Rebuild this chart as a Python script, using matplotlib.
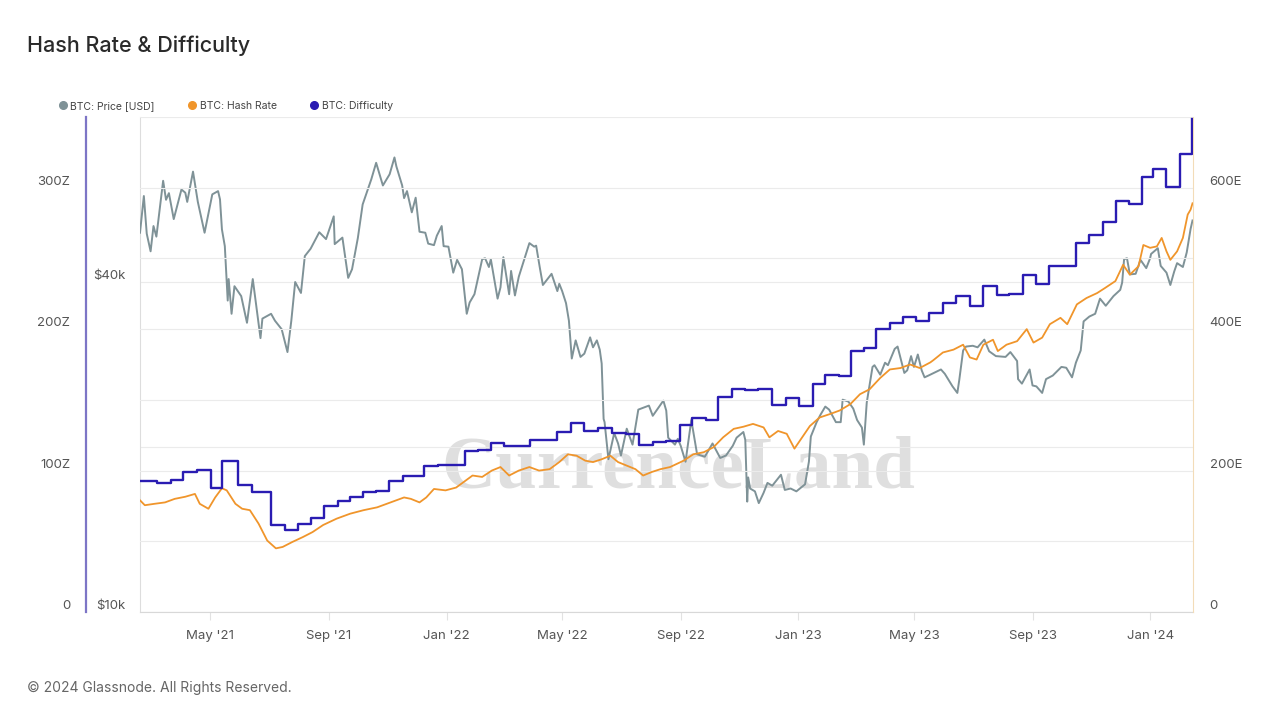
import pandas as pd
import matplotlib.pyplot as plt
import matplotlib.dates as mdates
from matplotlib.lines import Line2D
from matplotlib.ticker import NullLocator

plt.rcParams['font.family'] = ['Inter', 'DejaVu Sans']

# BTC price (USD)
price_dates = [
    '2021-02-17', '2021-02-21', '2021-02-24', '2021-02-28', '2021-03-03', '2021-03-06', '2021-03-13',
    '2021-03-16', '2021-03-19', '2021-03-24', '2021-04-01', '2021-04-05', '2021-04-07', '2021-04-13',
    '2021-04-18', '2021-04-25', '2021-05-03', '2021-05-09', '2021-05-11', '2021-05-13', '2021-05-16',
    '2021-05-19', '2021-05-20', '2021-05-23', '2021-05-26', '2021-06-02', '2021-06-08', '2021-06-14',
    '2021-06-22', '2021-06-24', '2021-07-03', '2021-07-07', '2021-07-14', '2021-07-20', '2021-07-24',
    '2021-07-28', '2021-08-03', '2021-08-07', '2021-08-13', '2021-08-22', '2021-08-29', '2021-09-06',
    '2021-09-07', '2021-09-15', '2021-09-21', '2021-09-25', '2021-10-01', '2021-10-06', '2021-10-15',
    '2021-10-20', '2021-10-27', '2021-11-03', '2021-11-08', '2021-11-10', '2021-11-16', '2021-11-18',
    '2021-11-21', '2021-11-26', '2021-11-30', '2021-12-04', '2021-12-10', '2021-12-13', '2021-12-19',
    '2021-12-22', '2021-12-27', '2021-12-29', '2022-01-03', '2022-01-08', '2022-01-12', '2022-01-17',
    '2022-01-22', '2022-01-25', '2022-01-30', '2022-02-07', '2022-02-10', '2022-02-14', '2022-02-16',
    '2022-02-23', '2022-02-26', '2022-03-01', '2022-03-07', '2022-03-09', '2022-03-13', '2022-03-17',
    '2022-03-28', '2022-04-02', '2022-04-04', '2022-04-08', '2022-04-11', '2022-04-20', '2022-04-26',
    '2022-04-28', '2022-05-01', '2022-05-05', '2022-05-08', '2022-05-11', '2022-05-15', '2022-05-20',
    '2022-05-24', '2022-05-30', '2022-06-02', '2022-06-06', '2022-06-09', '2022-06-11', '2022-06-13',
    '2022-06-14', '2022-06-18', '2022-06-24', '2022-06-28', '2022-07-01', '2022-07-07', '2022-07-13',
    '2022-07-19', '2022-07-30', '2022-08-03', '2022-08-14', '2022-08-17', '2022-08-19', '2022-08-26',
    '2022-08-29', '2022-09-01', '2022-09-06', '2022-09-12', '2022-09-18', '2022-09-26', '2022-10-04',
    '2022-10-12', '2022-10-18', '2022-10-25', '2022-10-29', '2022-11-05', '2022-11-07', '2022-11-09',
    '2022-11-10', '2022-11-12', '2022-11-17', '2022-11-21', '2022-11-26', '2022-11-30', '2022-12-05',
    '2022-12-14', '2022-12-18', '2022-12-24', '2022-12-30', '2023-01-08', '2023-01-12', '2023-01-14',
    '2023-01-20', '2023-01-24', '2023-01-29', '2023-02-02', '2023-02-09', '2023-02-14', '2023-02-16',
    '2023-02-22', '2023-02-27', '2023-03-03', '2023-03-08', '2023-03-10', '2023-03-13', '2023-03-19',
    '2023-03-21', '2023-03-27', '2023-04-01', '2023-04-04', '2023-04-11', '2023-04-14', '2023-04-21',
    '2023-04-24', '2023-04-28', '2023-05-01', '2023-05-05', '2023-05-09', '2023-05-12', '2023-05-16',
    '2023-05-29', '2023-06-02', '2023-06-10', '2023-06-15', '2023-06-17', '2023-06-21', '2023-06-24',
    '2023-07-01', '2023-07-06', '2023-07-13', '2023-07-18', '2023-07-25', '2023-08-04', '2023-08-09',
    '2023-08-16', '2023-08-17', '2023-08-21', '2023-08-29', '2023-09-01', '2023-09-05', '2023-09-11',
    '2023-09-15', '2023-09-22', '2023-10-01', '2023-10-06', '2023-10-12', '2023-10-16', '2023-10-21',
    '2023-10-24', '2023-10-30', '2023-11-05', '2023-11-10', '2023-11-16', '2023-11-24', '2023-12-01',
    '2023-12-03', '2023-12-05', '2023-12-08', '2023-12-11', '2023-12-17', '2023-12-22', '2023-12-28',
    '2024-01-01', '2024-01-02', '2024-01-09', '2024-01-12', '2024-01-18', '2024-01-22', '2024-01-26',
    '2024-01-29', '2024-02-04', '2024-02-08', '2024-02-12', '2024-02-14',
]
price_usd = [
    49200, 57400, 49000, 45500, 50600, 48400, 61200,
    56500, 58100, 52100, 59000, 58200, 56000, 63600,
    56000, 49200, 57800, 58600, 56600, 49900, 46500,
    37000, 40500, 35000, 39300, 37700, 33700, 40500,
    31600, 34300, 35000, 34000, 32800, 29800, 34000,
    40000, 38200, 44600, 46000, 49300, 47900, 52700,
    46900, 48200, 40700, 42200, 48100, 55400, 61600,
    66000, 60000, 62900, 67500, 65000, 60000, 56900,
    58600, 53600, 57000, 49400, 49200, 47000, 46700,
    48600, 50600, 46500, 46400, 41600, 43900, 42200,
    35000, 36700, 38000, 44000, 44200, 42600, 44000,
    37300, 39100, 44400, 38000, 41900, 37800, 40900,
    47100, 46400, 46600, 42300, 39500, 41400, 38500,
    39700, 38500, 36600, 34000, 29000, 31300, 29200,
    29600, 31700, 30400, 31300, 30100, 28400, 22500,
    22200, 19000, 21200, 20300, 19300, 21600, 20200,
    23400, 23800, 22800, 24300, 23300, 20800, 20200,
    20700, 20100, 18800, 22400, 19400, 19200, 20300,
    19100, 19300, 20100, 20800, 21300, 20600, 15900,
    17600, 16800, 16600, 15800, 16500, 17200, 17000,
    17800, 16700, 16800, 16600, 17100, 18800, 20900,
    22200, 22900, 23700, 23400, 22200, 22200, 24400,
    24200, 23500, 22400, 21700, 20200, 24100, 28000,
    28200, 27100, 28500, 28200, 30200, 30500, 27300,
    27600, 29300, 28000, 29500, 27600, 26800, 27000,
    27700, 27200, 25800, 25100, 26500, 30000, 30500,
    30600, 30400, 31400, 29900, 29300, 29200, 29800,
    28700, 26600, 26100, 27700, 25900, 25800, 25100,
    26600, 27000, 28000, 27900, 26800, 28500, 30000,
    33900, 34600, 35000, 37300, 36200, 37700, 38700,
    39900, 44000, 44200, 41300, 41400, 43900, 42400,
    44200, 45000, 46100, 42800, 41600, 39500, 41800,
    43300, 42600, 45300, 50000, 51800,
]

# BTC hash rate (EH/s), orange line
hash_dates = [
    '2021-02-17', '2021-02-22', '2021-03-04', '2021-03-15', '2021-03-25', '2021-04-05', '2021-04-15',
    '2021-04-20', '2021-04-29', '2021-05-06', '2021-05-13', '2021-05-18', '2021-05-27', '2021-06-03',
    '2021-06-11', '2021-06-20', '2021-06-29', '2021-07-08', '2021-07-15', '2021-07-25', '2021-08-05',
    '2021-08-15', '2021-08-26', '2021-09-09', '2021-09-23', '2021-10-07', '2021-10-21', '2021-11-04',
    '2021-11-18', '2021-11-25', '2021-12-04', '2021-12-11', '2021-12-19', '2021-12-31', '2022-01-11',
    '2022-01-21', '2022-01-28', '2022-02-07', '2022-02-17', '2022-02-26', '2022-03-07', '2022-03-17',
    '2022-03-28', '2022-04-07', '2022-04-18', '2022-04-28', '2022-05-07', '2022-05-16', '2022-05-25',
    '2022-06-02', '2022-06-11', '2022-06-20', '2022-06-28', '2022-07-07', '2022-07-16', '2022-07-24',
    '2022-08-02', '2022-08-11', '2022-08-21', '2022-09-04', '2022-09-14', '2022-09-25', '2022-10-05',
    '2022-10-15', '2022-10-26', '2022-11-05', '2022-11-15', '2022-11-26', '2022-12-02', '2022-12-11',
    '2022-12-20', '2022-12-28', '2023-01-04', '2023-01-13', '2023-01-23', '2023-02-03', '2023-02-13',
    '2023-02-24', '2023-03-06', '2023-03-16', '2023-03-27', '2023-04-06', '2023-04-17', '2023-04-27',
    '2023-05-07', '2023-05-18', '2023-05-21', '2023-05-31', '2023-06-11', '2023-06-21', '2023-06-28',
    '2023-07-05', '2023-07-12', '2023-07-22', '2023-07-27', '2023-08-05', '2023-08-16', '2023-08-26',
    '2023-09-02', '2023-09-11', '2023-09-19', '2023-09-30', '2023-10-07', '2023-10-17', '2023-10-27',
    '2023-11-07', '2023-11-15', '2023-11-26', '2023-12-04', '2023-12-11', '2023-12-20', '2023-12-25',
    '2024-01-01', '2024-01-08', '2024-01-13', '2024-01-18', '2024-01-22', '2024-01-29', '2024-02-04',
    '2024-02-09', '2024-02-12', '2024-02-14',
]
hash_eh = [
    158, 151, 153, 155, 160, 163, 167,
    153, 146, 162, 175, 172, 153, 146,
    144, 125, 101, 90, 92, 99, 106,
    113, 123, 132, 139, 144, 148, 155,
    162, 160, 155, 162, 174, 172, 176,
    186, 193, 191, 200, 205, 193, 200,
    205, 200, 202, 212, 223, 221, 214,
    212, 216, 221, 212, 207, 202, 193,
    198, 202, 205, 214, 223, 226, 233,
    247, 259, 262, 266, 261, 247, 256,
    252, 231, 245, 263, 275, 280, 285,
    294, 308, 315, 331, 343, 345, 350,
    345, 353, 356, 367, 371, 378, 360,
    357, 378, 385, 369, 378, 383, 400,
    381, 388, 407, 416, 407, 435, 444,
    451, 458, 468, 491, 477, 489, 519,
    515, 517, 529, 510, 498, 510, 529,
    562, 569, 578,
]

# BTC difficulty (Z), blue step line: value from each adjustment date
diff_dates = [
    '2021-02-17', '2021-03-07', '2021-03-21', '2021-04-03', '2021-04-17', '2021-05-02', '2021-05-13',
    '2021-05-30', '2021-06-13', '2021-07-03', '2021-07-17', '2021-07-31', '2021-08-13', '2021-08-27',
    '2021-09-10', '2021-09-23', '2021-10-06', '2021-10-20', '2021-11-02', '2021-11-17', '2021-12-09',
    '2021-12-23', '2022-01-06', '2022-01-20', '2022-02-03', '2022-02-16', '2022-03-02', '2022-03-16',
    '2022-03-29', '2022-04-12', '2022-04-26', '2022-05-10', '2022-05-24', '2022-06-07', '2022-06-22',
    '2022-07-06', '2022-07-20', '2022-08-03', '2022-08-17', '2022-08-31', '2022-09-13', '2022-09-27',
    '2022-10-10', '2022-10-24', '2022-11-07', '2022-11-20', '2022-12-05', '2022-12-19', '2023-01-02',
    '2023-01-16', '2023-01-29', '2023-02-12', '2023-02-25', '2023-03-10', '2023-03-23', '2023-04-06',
    '2023-04-20', '2023-05-03', '2023-05-17', '2023-05-31', '2023-06-14', '2023-06-28', '2023-07-12',
    '2023-07-26', '2023-08-08', '2023-08-22', '2023-09-05', '2023-09-18', '2023-10-02', '2023-10-16',
    '2023-10-30', '2023-11-13', '2023-11-27', '2023-12-10', '2023-12-24', '2024-01-04', '2024-01-18',
    '2024-02-01', '2024-02-13',
]
diff_z = [
    92.5, 91.3, 93.6, 98.8, 100.7, 87.8, 107.0,
    89.7, 85.2, 61.3, 58.2, 62.0, 66.4, 74.9,
    78.4, 81.2, 85.2, 85.9, 92.5, 96.0, 103.5,
    104.0, 103.8, 114.0, 114.5, 119.2, 117.6, 117.4,
    121.8, 121.3, 127.0, 133.3, 128.2, 129.8, 126.5,
    126.0, 118.3, 120.4, 120.6, 132.4, 137.1, 136.0,
    152.1, 157.5, 157.2, 157.5, 146.3, 151.6, 145.8,
    161.0, 167.6, 167.0, 184.5, 186.5, 199.8, 204.4,
    208.5, 205.6, 211.5, 218.5, 223.7, 216.7, 230.3,
    223.9, 224.5, 238.0, 231.9, 244.4, 245.0, 260.8,
    266.7, 276.0, 290.6, 288.2, 307.7, 313.2, 300.7,
    323.5, 348.8,
]

grey = '#7f9297'
orange = '#f0952b'
blue = '#2a1cb2'
txt = '#555555'
gridc = '#ebebeb'

fig = plt.figure(figsize=(12.8, 7.2), dpi=100)
ax = fig.add_axes([140 / 1280, 108 / 720, 1053 / 1280, 495 / 720])
ax.set_facecolor('none')
ax_hash = ax.twinx()
ax_diff = ax.twinx()

# Lignes
ax.plot(pd.to_datetime(price_dates), price_usd, color=grey, lw=1.4, zorder=3)
ax_hash.plot(pd.to_datetime(hash_dates), hash_eh, color=orange, lw=1.3)
ax_diff.plot(pd.to_datetime(diff_dates), diff_z, color=blue, lw=1.7, drawstyle='steps-post')

ax.set_xlim(pd.Timestamp('2021-02-17'), pd.Timestamp('2024-02-14 12:00'))

# Price axis (log)
ax.set_yscale('log')
ax.set_ylim(10000, 80000)
ax.set_yticks([10000, 20000, 40000], labels=['$10k', '', '$40k'])
ax.yaxis.set_minor_locator(NullLocator())
ax.tick_params(axis='y', which='both', length=0, pad=10.5, labelsize=9.5, labelcolor=txt)
ax.grid(True, axis='y', which='major', color=gridc, lw=0.8, zorder=0)

# Hash rate axis (right)
ax_hash.set_ylim(0, 700)
ax_hash.set_yticks([0, 200, 400, 600], labels=['0', '200E', '400E', '600E'])
ax_hash.set_yticks([100, 300, 500, 700], minor=True)
ax_hash.tick_params(axis='y', which='both', length=0, pad=12, labelsize=9.5, labelcolor=txt)
ax_hash.grid(True, axis='y', which='both', color=gridc, lw=0.8)
ax_hash.set_axisbelow(True)

# Difficulty axis (far left)
ax_diff.set_ylim(0, 350)
ax_diff.yaxis.tick_left()
ax_diff.set_yticks([0, 100, 200, 300], labels=['0', '100Z', '200Z', '300Z'])
ax_diff.tick_params(axis='y', length=0, pad=11.5, labelsize=9.5, labelcolor=txt)

for a in (ax, ax_hash, ax_diff):
    for s in a.spines.values():
        s.set_visible(False)
ax.spines['left'].set_visible(True)
ax.spines['left'].set_color('#dddddd')
ax.spines['bottom'].set_visible(True)
ax.spines['bottom'].set_color('#d8d8d8')
ax_hash.spines['right'].set_visible(True)
ax_hash.spines['right'].set_color('#f3dcb8')
ax_diff.spines['left'].set_visible(True)
ax_diff.spines['left'].set_position(('outward', 54 * 0.72))
ax_diff.spines['left'].set_color('#7d75c6')
ax_diff.spines['left'].set_linewidth(1.6)

for a in (ax, ax_hash, ax_diff):
    for lab in a.get_yticklabels():
        lab.set_va('bottom')

# X axis
ax.xaxis.set_major_locator(mdates.MonthLocator(bymonth=[1, 5, 9]))
ax.xaxis.set_major_formatter(mdates.DateFormatter("%b '%y"))
ax.tick_params(axis='x', length=6, width=0.8, color='#e2e2e2', pad=7, labelsize=9.5, labelcolor=txt)

# Watermark
ax.text(678 / 1280, 1 - 487 / 720, 'CurrenceLand', transform=fig.transFigure,
        family='Liberation Serif', weight='bold', fontsize=54, color='#d2d2d2', alpha=0.7,
        ha='center', va='baseline', zorder=1)

# Legend
handles = [Line2D([], [], ls='none', marker='o', markersize=5.5, color=c) for c in (grey, orange, blue)]
fig.legend(handles, ['BTC: Price [USD]', 'BTC: Hash Rate', 'BTC: Difficulty'],
           loc='center left', bbox_to_anchor=(50 / 1280, 1 - 106 / 720), ncol=3, frameon=False,
           fontsize=7.5, handlelength=0.6, handletextpad=0.45, columnspacing=3.25, labelcolor='#444444')

# Title and footer
fig.text(27 / 1280, 1 - 46 / 720, 'Hash Rate & Difficulty', fontsize=15.5, weight='medium',
         color='#2a2a2a', va='center')
fig.text(27 / 1280, 1 - 688 / 720, '\u00a9 2024 Glassnode. All Rights Reserved.', fontsize=10,
         color='#666666', va='center')

fig.savefig('out.png', dpi=100)
